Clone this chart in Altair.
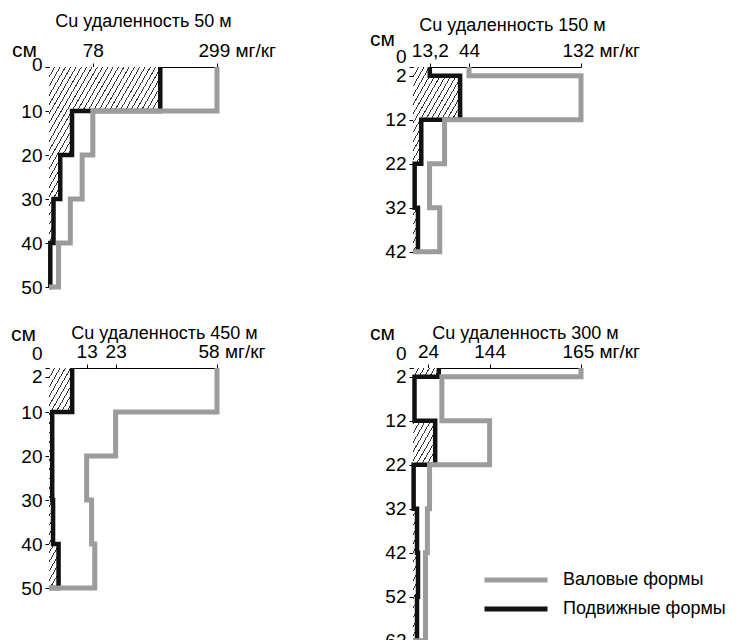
import math
import numpy as np
import pandas as pd
import altair as alt

FONT = "Liberation Sans"
GRAY = "#9c9c9c"
BLACK = "#111111"
HATCH = "#333333"
PX_PER_CM = 4.4
W = 168

FORMS = ["Валовые формы", "Подвижные формы"]

# ---- Panel 1: 50 m ----
p1_title = "Cu удаленность 50 м"
p1_depth = [0, 10, 20, 30, 40, 50]
p1_total = [299, 78, 59, 38, 17]
p1_mobile = [198, 41, 20, 8, 2.3]
p1_xticks = [78, 299]
p1_yticks = [0, 10, 20, 30, 40, 50]

# ---- Panel 2: 150 m ----
p2_title = "Cu удаленность 150 м"
p2_depth = [0, 2, 12, 22, 32, 42]
p2_total = [44, 132, 24.8, 13, 21]
p2_mobile = [13.2, 37, 6.5, 1.3, 3.9]
p2_xticks = [13.2, 44, 132]
p2_yticks = [0, 2, 12, 22, 32, 42]

# ---- Panel 3: 450 m ----
p3_title = "Cu удаленность 450 м"
p3_depth = [0, 10, 20, 30, 40, 50]
p3_total = [58, 23, 13, 14.7, 15.8]
p3_mobile = [8, 1.1, 1.1, 1.4, 3.3]
p3_xticks = [13, 23, 58]
p3_yticks = [0, 2, 10, 20, 30, 40, 50]

# ---- Panel 4: 300 m (schematic, piecewise axis) ----
p4_title = "Cu удаленность 300 м"
p4_depth = [0, 2, 12, 22, 32, 42, 52, 62]
p4_total = [165, 51, 144, 27, 23, 20, 20]
p4_mobile = [45, 2.4, 38, 1, 6.4, 8, 6.4]
p4_xticks = [24, 144, 165]
p4_yticks = [0, 2, 12, 22, 32, 42, 52, 62]
p4_xdomain = [0, 24, 144, 165]
p4_xrange = [0, 15, 76.6, 168]

UNIT = "мг/кг"

color_scale = alt.Scale(domain=FORMS, range=[GRAY, BLACK])
# long horizontal stroke symbol drawn beyond a small layout box
legend = alt.Legend(
    title=None, orient="none", legendX=90, legendY=199,
    symbolType="M-3,0H3", symbolStrokeWidth=5, symbolSize=441,
    symbolFillColor="transparent",
    labelFontSize=18, labelFont=FONT, labelOffset=34, rowPadding=6,
    labelColor="black", padding=0, labelLimit=0,
)

ANG = math.radians(60)
SPACING = 4.6
LW = 0.9


def hatch(w_px, h_px, y0_px):
    """Diagonal hatch as a hard-stop linear gradient (bbox units)."""
    A, B = math.sin(ANG) * max(w_px, 0.5), math.cos(ANG) * max(h_px, 0.5)
    smax = A + B
    lam = smax / (A * A + B * B)
    phase = (math.cos(ANG) * y0_px) % SPACING
    stops = []
    t = -phase
    while t < smax:
        for a, b, col in ((t, t + LW, HATCH), (t + LW, t + SPACING, "white")):
            a2, b2 = max(a, 0), min(b, smax)
            if b2 > a2:
                stops.append({"offset": round(a2 / smax, 5), "color": col})
                stops.append({"offset": round(b2 / smax, 5), "color": col})
        t += SPACING
    return {"gradient": "linear", "x1": 0, "y1": 0, "x2": round(lam * A, 5),
            "y2": round(lam * B, 5), "stops": stops}


def panel(title, depth, total, mobile, xticks, yticks, title_x, title_y,
          zero_off, cm_x, cm_y, show_legend, xdomain=None, xrange=None):
    rows = []
    for form, vals in ((FORMS[0], total), (FORMS[1], mobile)):
        k = 0
        for i, v in enumerate(vals):
            rows.append(dict(form=form, value=v, depth=depth[i], order=k)); k += 1
            rows.append(dict(form=form, value=v, depth=depth[i + 1], order=k)); k += 1
        rows.append(dict(form=form, value=0, depth=depth[-1], order=k))
    df = pd.DataFrame(rows)

    if xdomain is None:
        xdomain = [0, max(xticks)]
        xrange = [0, W]
    last = xticks[-1]
    label_expr = (f"datum.value == {last} ? '{last} {UNIT}' : "
                  f"replace(format(datum.value, '~g'), '.', ',')")
    xaxis = alt.Axis(
        orient="top", values=xticks, grid=False,
        title=title, titleX=title_x, titleY=title_y, titleAlign="center",
        titleBaseline="alphabetic", titleFontSize=18, titleAngle=0,
        labelExpr=label_expr, labelOverlap=False,
        labelAlign={"condition": {"test": f"datum.value == {last}", "value": "left"},
                    "value": "center"},
        labelOffset={"condition": {"test": f"datum.value == {last}", "value": -19},
                     "value": 0},
    )
    yaxis = alt.Axis(
        values=yticks, grid=False, title="см", titleAngle=0, titleAlign="center",
        titleBaseline="alphabetic", titleX=cm_x, titleY=cm_y, titleFontSize=21,
        labelOverlap=False,
        labelOffset={"condition": {"test": "datum.value == 0", "value": zero_off},
                     "value": 0},
    )
    x = alt.X("value:Q", scale=alt.Scale(domain=xdomain, range=xrange, nice=False,
                                         zero=False), axis=xaxis)
    y = alt.Y("depth:Q", scale=alt.Scale(domain=[0, depth[-1]], reverse=True,
                                         nice=False, zero=False), axis=yaxis)

    h = depth[-1] * PX_PER_CM
    layers = []
    # hatched zone under the mobile-form profile, one rect per layer interval
    for i, v in enumerate(mobile):
        rdf = pd.DataFrame({"value": [v], "zero": [0], "depth": [depth[i]],
                            "depth2": [depth[i + 1]]})
        w_px = float(np.interp(v, xdomain, xrange))
        h_px = (depth[i + 1] - depth[i]) * PX_PER_CM
        y0_px = depth[i] * PX_PER_CM
        layers.append(
            alt.Chart(rdf).mark_rect(fill=hatch(w_px, h_px, y0_px), strokeWidth=0,
                                     opacity=1)
            .encode(x=x, x2="zero:Q", y=y, y2="depth2:Q")
        )
    base = alt.Chart(df).encode(x=x, y=y, order="order:Q")
    color = alt.Color("form:N", scale=color_scale,
                      legend=legend if show_legend else None)
    black = base.transform_filter(alt.datum.form == FORMS[1]).mark_line(
        strokeWidth=4.5, strokeJoin="miter").encode(color=color)
    gray = base.transform_filter(alt.datum.form == FORMS[0]).mark_line(
        strokeWidth=5, strokeJoin="miter").encode(color=color)
    layers += [black, gray]
    return alt.layer(*layers).properties(width=W, height=h)


c1 = panel(p1_title, p1_depth, p1_total, p1_mobile, p1_xticks, p1_yticks,
           94, -41, -3, -25, -11, False)
c2 = panel(p2_title, p2_depth, p2_total, p2_mobile, p2_xticks, p2_yticks,
           99, -37, -11, -31, -22, False)
c3 = panel(p3_title, p3_depth, p3_total, p3_mobile, p3_xticks, p3_yticks,
           115, -30, -15, -26, -28, False)
c4 = panel(p4_title, p4_depth, p4_total, p4_mobile, p4_xticks, p4_yticks,
           112, -30, -15, -31, -29, True,
           xdomain=p4_xdomain, xrange=p4_xrange)

chart = alt.concat(
    c1, c2, c3, c4, columns=2, spacing={"row": 80, "column": 196}, bounds="flush",
).resolve_scale(color="independent").resolve_legend(color="independent").properties(
    padding={"left": 2, "top": 4, "right": 0, "bottom": 0},
    background="white",
).configure(font=FONT).configure_view(stroke=None).configure_axis(
    domainColor="black", domainWidth=1, tickColor="black", tickWidth=1, tickSize=4,
    labelFontSize=19, labelFont=FONT, labelColor="black", labelPadding=3,
    titleFont=FONT, titleFontWeight="normal", titleColor="black",
)

chart.save("out.html", embed_options={"renderer": "svg", "actions": False})
